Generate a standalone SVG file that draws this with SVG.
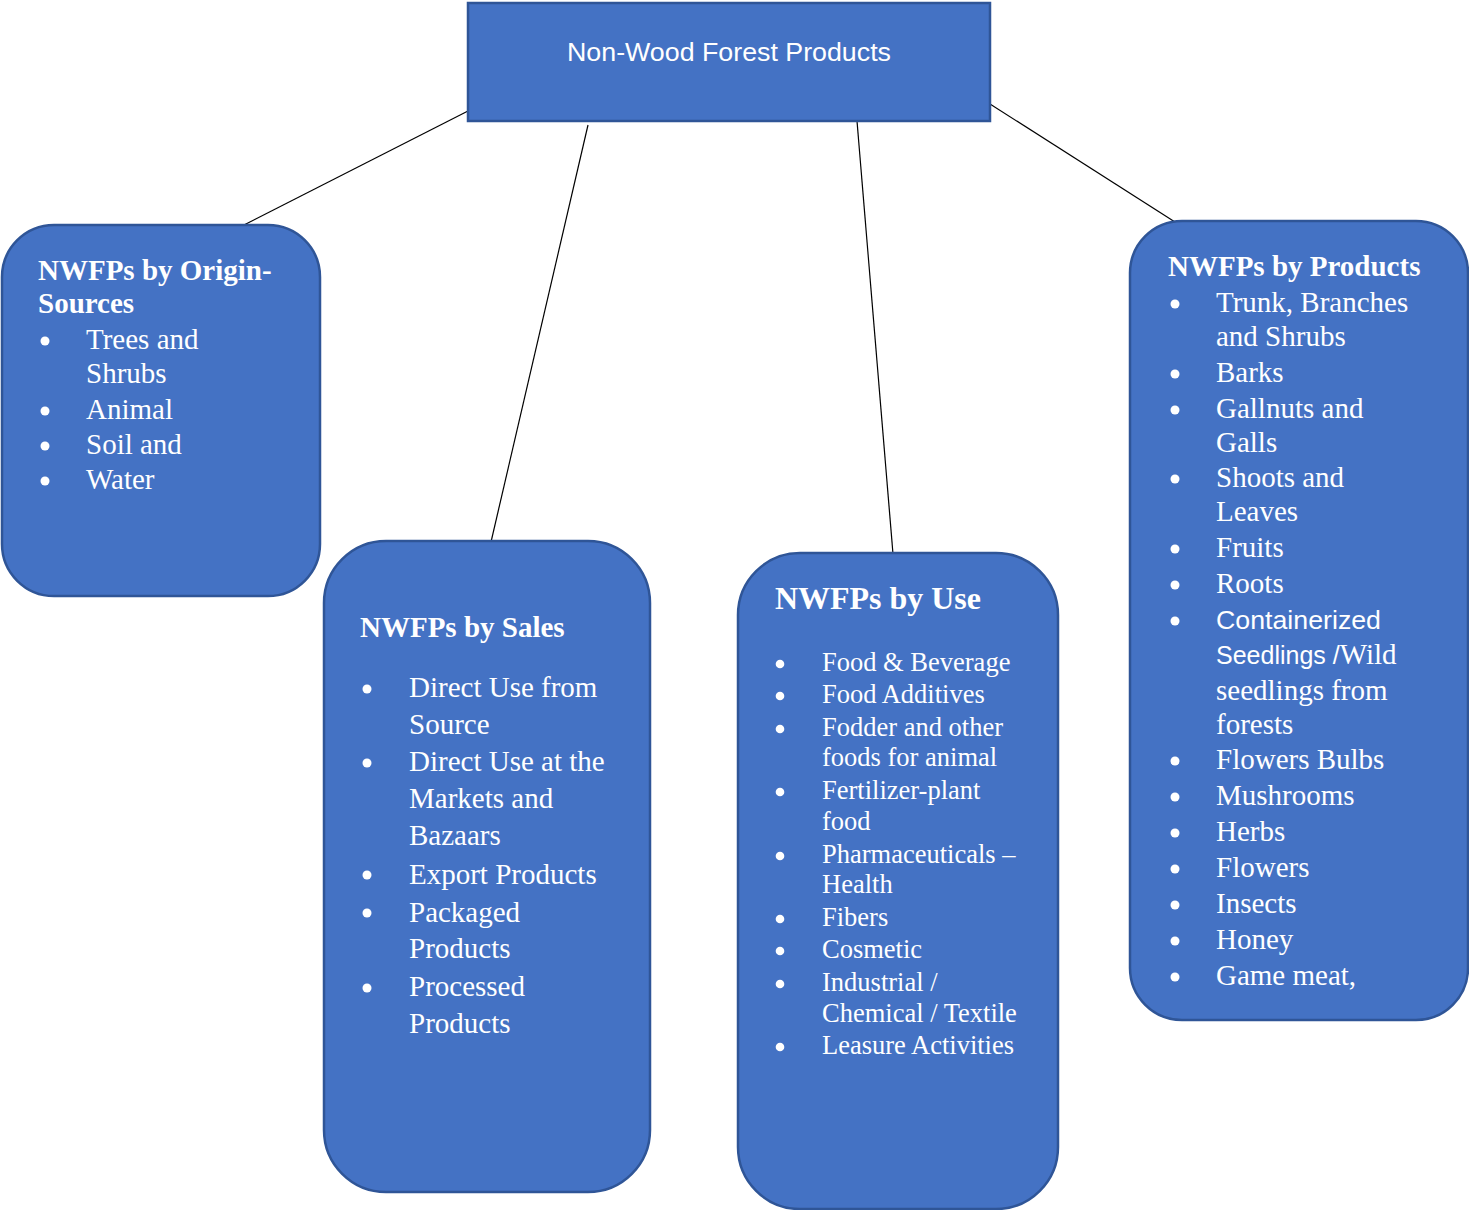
<svg xmlns="http://www.w3.org/2000/svg" width="1469" height="1210" viewBox="0 0 1469 1210">
<style>
.box{fill:#4472C4;stroke:#2F5597;stroke-width:2.5}
.conn{stroke:#000;stroke-width:1.2;fill:none}
.t{font-family:"Liberation Serif","Times New Roman",serif;fill:#fff;font-size:29px}
.u{font-family:"Liberation Serif","Times New Roman",serif;fill:#fff;font-size:26.5px}
.h{font-family:"Liberation Serif","Times New Roman",serif;fill:#fff;font-size:29px;font-weight:bold}
.s{font-family:"Liberation Sans",Arial,sans-serif;fill:#fff}
.b{fill:#fff}
</style>
<rect width="1469" height="1210" fill="#fff"/>
<g id="connectors">
<line class="conn" x1="468" y1="111" x2="242" y2="226"/>
<line class="conn" x1="588" y1="125" x2="491" y2="542"/>
<line class="conn" x1="857" y1="121" x2="893" y2="554"/>
<line class="conn" x1="990" y1="104" x2="1175" y2="222"/>
</g>
<g id="root">
<rect class="box" x="468" y="3" width="522" height="118"/>
<text class="s" x="729" y="61" font-size="25" text-anchor="middle" textLength="324" lengthAdjust="spacingAndGlyphs">Non-Wood Forest Products</text>
</g>
<g id="origin">
<rect class="box" x="2" y="225" width="318" height="371" rx="52"/>
<text class="h" x="38" y="280">NWFPs by Origin-</text>
<text class="h" x="38" y="313">Sources</text>
<g class="b"><circle cx="45" cy="341" r="4.5"/><circle cx="45" cy="411" r="4.5"/><circle cx="45" cy="446" r="4.5"/><circle cx="45" cy="481" r="4.5"/></g>
<text class="t" x="86" y="349">Trees and</text>
<text class="t" x="86" y="383">Shrubs</text>
<text class="t" x="86" y="419">Animal</text>
<text class="t" x="86" y="454">Soil and</text>
<text class="t" x="86" y="489">Water</text>
</g>
<g id="sales">
<rect class="box" x="324" y="541" width="326" height="651" rx="62"/>
<text class="h" x="360" y="637">NWFPs by Sales</text>
<g class="b"><circle cx="367" cy="689" r="4.5"/><circle cx="367" cy="763" r="4.5"/><circle cx="367" cy="875" r="4.5"/><circle cx="367" cy="913" r="4.5"/><circle cx="367" cy="988" r="4.5"/></g>
<text class="t" x="409" y="697">Direct Use from</text>
<text class="t" x="409" y="734">Source</text>
<text class="t" x="409" y="771">Direct Use at the</text>
<text class="t" x="409" y="808">Markets and</text>
<text class="t" x="409" y="845">Bazaars</text>
<text class="t" x="409" y="884">Export Products</text>
<text class="t" x="409" y="922">Packaged</text>
<text class="t" x="409" y="958">Products</text>
<text class="t" x="409" y="996">Processed</text>
<text class="t" x="409" y="1033">Products</text>
</g>
<g id="use">
<rect class="box" x="738" y="553" width="320" height="656" rx="62"/>
<text class="h" x="775" y="609" font-size="32" style="font-size:32px" textLength="206" lengthAdjust="spacing">NWFPs by Use</text>
<g class="b"><circle cx="780" cy="664" r="4.3"/><circle cx="780" cy="696" r="4.3"/><circle cx="780" cy="729" r="4.3"/><circle cx="780" cy="792" r="4.3"/><circle cx="780" cy="856" r="4.3"/><circle cx="780" cy="919" r="4.3"/><circle cx="780" cy="951" r="4.3"/><circle cx="780" cy="984" r="4.3"/><circle cx="780" cy="1047" r="4.3"/></g>
<text class="u" x="822" y="671">Food &amp; Beverage</text>
<text class="u" x="822" y="703">Food Additives</text>
<text class="u" x="822" y="736">Fodder and other</text>
<text class="u" x="822" y="766">foods for animal</text>
<text class="u" x="822" y="799">Fertilizer-plant</text>
<text class="u" x="822" y="830">food</text>
<text class="u" x="822" y="863">Pharmaceuticals –</text>
<text class="u" x="822" y="893">Health</text>
<text class="u" x="822" y="926">Fibers</text>
<text class="u" x="822" y="958">Cosmetic</text>
<text class="u" x="822" y="991">Industrial /</text>
<text class="u" x="822" y="1022">Chemical / Textile</text>
<text class="u" x="822" y="1054">Leasure Activities</text>
</g>
<g id="products">
<rect class="box" x="1130" y="221" width="338" height="799" rx="52"/>
<text class="h" x="1168" y="276">NWFPs by Products</text>
<g class="b"><circle cx="1175" cy="304" r="4.5"/><circle cx="1175" cy="374" r="4.5"/><circle cx="1175" cy="410" r="4.5"/><circle cx="1175" cy="479" r="4.5"/><circle cx="1175" cy="549" r="4.5"/><circle cx="1175" cy="585" r="4.5"/><circle cx="1175" cy="621" r="4.5"/><circle cx="1175" cy="761" r="4.5"/><circle cx="1175" cy="797" r="4.5"/><circle cx="1175" cy="833" r="4.5"/><circle cx="1175" cy="869" r="4.5"/><circle cx="1175" cy="905" r="4.5"/><circle cx="1175" cy="941" r="4.5"/><circle cx="1175" cy="977" r="4.5"/></g>
<text class="t" x="1216" y="312">Trunk, Branches</text>
<text class="t" x="1216" y="346">and Shrubs</text>
<text class="t" x="1216" y="382">Barks</text>
<text class="t" x="1216" y="418">Gallnuts and</text>
<text class="t" x="1216" y="452">Galls</text>
<text class="t" x="1216" y="487">Shoots and</text>
<text class="t" x="1216" y="521">Leaves</text>
<text class="t" x="1216" y="557">Fruits</text>
<text class="t" x="1216" y="593">Roots</text>
<text class="s" x="1216" y="629" font-size="26" textLength="165" lengthAdjust="spacingAndGlyphs">Containerized</text>
<text class="t" x="1216" y="664"><tspan class="s" style="font-size:25px">Seedlings /</tspan>Wild</text>
<text class="t" x="1216" y="700">seedlings from</text>
<text class="t" x="1216" y="734">forests</text>
<text class="t" x="1216" y="769">Flowers Bulbs</text>
<text class="t" x="1216" y="805">Mushrooms</text>
<text class="t" x="1216" y="841">Herbs</text>
<text class="t" x="1216" y="877">Flowers</text>
<text class="t" x="1216" y="913">Insects</text>
<text class="t" x="1216" y="949">Honey</text>
<text class="t" x="1216" y="985">Game meat,</text>
</g>
</svg>
